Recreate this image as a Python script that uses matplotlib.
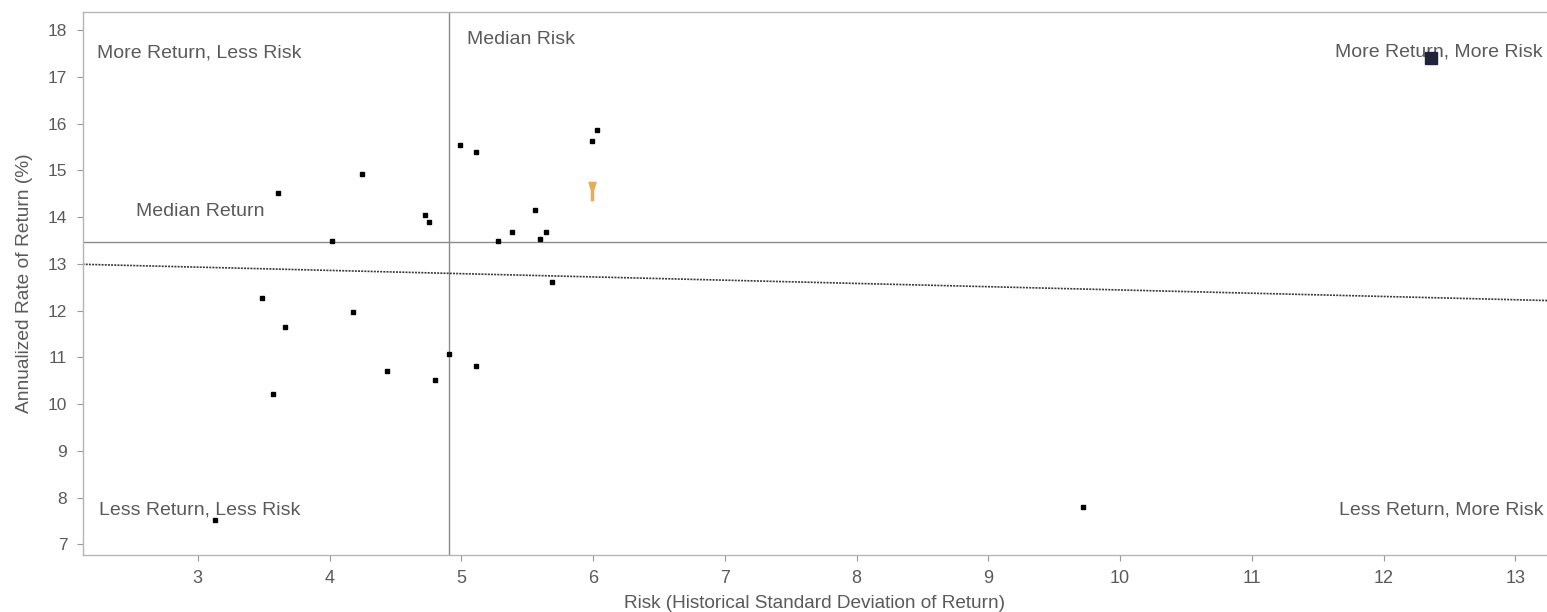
import matplotlib
matplotlib.use("Agg")
import matplotlib.pyplot as plt
import numpy as np
from matplotlib.path import Path

plt.rcParams['font.family'] = ['Liberation Sans', 'DejaVu Sans']

# ---- data ----
risk = [3.611, 4.244, 4.016, 4.724, 4.757, 4.990, 5.111, 6.030, 5.992,
        5.559, 5.384, 5.642, 5.278, 5.599, 5.688, 3.489, 4.180, 3.664,
        4.904, 5.109, 4.438, 4.800, 3.573, 3.128, 9.718]
ret = [14.51, 14.92, 13.49, 14.04, 13.89, 15.53, 15.38, 15.86, 15.62,
       14.15, 13.68, 13.68, 13.49, 13.54, 12.62, 12.27, 11.96, 11.65,
       11.06, 10.81, 10.71, 10.51, 10.21, 7.53, 7.79]
highlight_risk = [5.99]
highlight_ret = [14.55]
benchmark_risk = [12.36]
benchmark_ret = [17.40]
median_risk = 4.904
median_return = 13.47
trend_intercept = 13.137
trend_slope = -0.0697
x_ticks = [3, 4, 5, 6, 7, 8, 9, 10, 11, 12, 13]
y_ticks = [7, 8, 9, 10, 11, 12, 13, 14, 15, 16, 17, 18]
quadrant_labels = ["More Return, Less Risk", "More Return, More Risk",
                   "Less Return, Less Risk", "Less Return, More Risk"]

W, H = 1547, 612
fig = plt.figure(figsize=(W / 100, H / 100), dpi=100)
ax = fig.add_axes([82.6 / W, 1 - 555 / H, (W - 82.6) / W, (555 - 12) / H])

xlim = (2.126, 13.24)
ylim = (6.771, 18.385)

txt_col = '#5a5a5a'

# median lines
ax.axvline(median_risk, color='#8a8a8a', lw=1.0, zorder=1)
ax.axhline(median_return, color='#8a8a8a', lw=1.0, zorder=1)

# trend line
tx = np.array(xlim)
ax.plot(tx, trend_intercept + trend_slope * tx, color='#3a3a3a', lw=1.2,
        linestyle=(0, (1.2, 0.7)), zorder=2)

# points
ax.plot(risk, ret, linestyle='none', marker='s', markersize=3.0,
        color='black', zorder=3)

# highlighted fund (gold funnel marker)
funnel = Path([(-0.45, 1.0), (0.45, 1.0), (0.18, 0.1), (0.18, -1.0),
               (-0.18, -1.0), (-0.18, 0.1), (-0.45, 1.0)],
              [Path.MOVETO] + [Path.LINETO] * 5 + [Path.CLOSEPOLY])
ax.plot(highlight_risk, highlight_ret, linestyle='none', marker=funnel,
        markersize=14, color='#e6ad55', markeredgewidth=0, zorder=4)

# benchmark square
ax.plot(benchmark_risk, benchmark_ret, linestyle='none', marker='s',
        markersize=9, color='#22223a', zorder=4)

ax.set_xlim(*xlim)
ax.set_ylim(*ylim)
ax.set_xticks(x_ticks)
ax.set_yticks(y_ticks)
ax.set_xticklabels([str(v) for v in x_ticks])
ax.set_yticklabels([str(v) for v in y_ticks])

for s in ['left', 'bottom', 'top']:
    ax.spines[s].set_color('#b5b5b5')
    ax.spines[s].set_linewidth(1.0)
ax.spines['right'].set_visible(False)

ax.tick_params(axis='both', direction='out', length=4, width=0.8,
               color='#999999', labelcolor=txt_col, pad=7)
ax.tick_params(axis='x', labelsize=13)
ax.tick_params(axis='y', labelsize=12.5)

ax.set_xlabel("Risk (Historical Standard Deviation of Return)",
              fontsize=13.7, color=txt_col)
ax.set_ylabel("Annualized Rate of Return (%)", fontsize=13.8, color=txt_col)
ax.xaxis.set_label_coords(0.5, -0.0737)
ax.yaxis.set_label_coords(-0.0339, 0.5)

fs = 14
ax.text(0.0098, 0.9245, quadrant_labels[0], transform=ax.transAxes,
        ha='left', va='center', fontsize=fs, color=txt_col)
ax.text(0.9973, 0.927, quadrant_labels[1], transform=ax.transAxes,
        ha='right', va='center', fontsize=fs, color=txt_col)
ax.text(0.0112, 0.0829, quadrant_labels[2], transform=ax.transAxes,
        ha='left', va='center', fontsize=fs, color=txt_col)
ax.text(0.9973, 0.0829, quadrant_labels[3], transform=ax.transAxes,
        ha='right', va='center', fontsize=fs, color=txt_col)
ax.text(0.2625, 0.950, "Median Risk", transform=ax.transAxes,
        ha='left', va='center', fontsize=fs, color=txt_col)
ax.text(0.0365, 0.6335, "Median Return", transform=ax.transAxes,
        ha='left', va='center', fontsize=fs, color=txt_col)

fig.savefig("out.png", dpi=100, facecolor='white')
